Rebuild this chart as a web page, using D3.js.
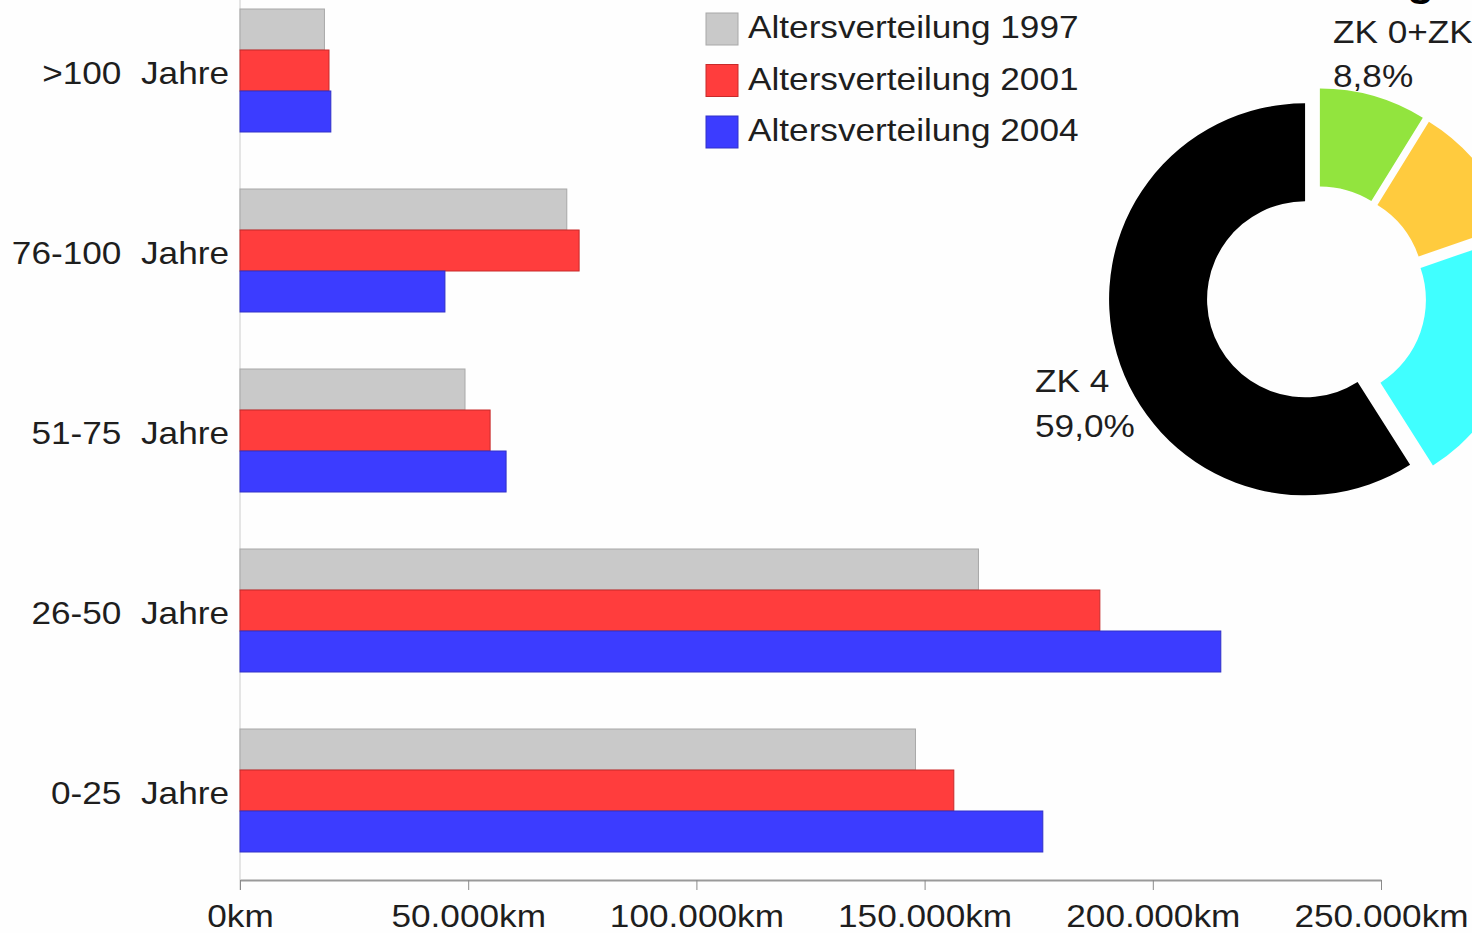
<!DOCTYPE html>
<html lang="de">
<head>
<meta charset="utf-8">
<title>Altersverteilung</title>
<script src="https://cdn.jsdelivr.net/npm/d3@7"></script>
<style>
  body { margin: 0; background: #fefefe; }
  svg { display: block; }
  text { font-family: "Liberation Sans", Arial, sans-serif; fill: #1e1e1e; white-space: pre; }
</style>
</head>
<body>
<script>
// Daten (km)
var categories = [">100  Jahre", "76-100  Jahre", "51-75  Jahre", "26-50  Jahre", "0-25  Jahre"];
var seriesNames = ["Altersverteilung 1997", "Altersverteilung 2001", "Altersverteilung 2004"];
var v1997 = [18500, 71600, 49300, 161800, 148000];
var v2001 = [19500, 74300, 54800, 188400, 156400];
var v2004 = [19900, 44900, 58300, 214900, 175900];
var seriesColors = ["#c9c9c9", "#ff3d3d", "#3c3cff"];
var seriesStroke = ["#a8a8a8", "#c82a2a", "#3030c8"];
var xTicks = [0, 50000, 100000, 150000, 200000, 250000];

var pieLabels = ["ZK 0+ZK 1", "ZK 2", "ZK 3", "ZK 4"];
var pieValues = [8.8, 10.9, 21.3, 59.0];
var pieColors = ["#92e43e", "#ffcb3e", "#40ffff", "#000000"];

var w = 1472, h = 933;
var sx = 1.1; // Schrift leicht in die Breite gezogen

var svg = d3.select("body").append("svg").attr("width", w).attr("height", h);

function txt(x, y, s, size, anchor, weight) {
  return svg.append("text")
    .attr("transform", "translate(" + x + "," + y + ") scale(" + sx + ",1)")
    .attr("text-anchor", anchor || "start")
    .attr("font-size", size + "px")
    .attr("font-weight", weight || "normal")
    .attr("xml:space", "preserve")
    .text(s);
}

var x = d3.scaleLinear().domain([0, 250000]).range([240, 1381]);

var y = d3.scaleBand()
  .domain(categories)
  .range([-19.5, 880.5])
  .paddingInner(57 / 180)
  .paddingOuter(28.5 / 180);

var yInner = d3.scaleBand().domain(d3.range(3)).range([0, y.bandwidth()]);

var table = categories.map(function(c, i) {
  return { cat: c, vals: [v1997[i], v2001[i], v2004[i]] };
});

// vertikale Grundlinie
svg.append("line")
  .attr("x1", x(0)).attr("x2", x(0))
  .attr("y1", 0).attr("y2", 890)
  .attr("stroke", "#dcdcdc").attr("stroke-width", 1.5);

// Balken
var groups = svg.selectAll(".grp")
  .data(table)
  .enter()
  .append("g")
  .attr("class", "grp")
  .attr("transform", function(d) { return "translate(0," + y(d.cat) + ")"; });

groups.selectAll("rect")
  .data(function(d) { return d.vals; })
  .enter()
  .append("rect")
  .attr("x", x(0))
  .attr("y", function(d, i) { return yInner(i); })
  .attr("width", function(d) { return x(d) - x(0); })
  .attr("height", yInner.bandwidth())
  .attr("fill", function(d, i) { return seriesColors[i]; })
  .attr("stroke", function(d, i) { return seriesStroke[i]; })
  .attr("stroke-width", 1);

// Kategorien
categories.forEach(function(c) {
  txt(229, y(c) + y.bandwidth() / 2 + 13, c, 32, "end");
});

// x-Achse
var xAxis = d3.axisBottom(x)
  .tickValues(xTicks)
  .tickSizeInner(10)
  .tickSizeOuter(0)
  .tickFormat(function(d) { return d3.format(",")(d).replace(/,/g, ".") + "km"; });

var ax = svg.append("g").attr("transform", "translate(0,880)").call(xAxis);
ax.select(".domain").attr("stroke", "#9a9a9a").attr("stroke-width", 2);
ax.selectAll(".tick line").attr("stroke", "#8a8a8a");
ax.selectAll(".tick text")
  .attr("y", 47).attr("dy", 0)
  .attr("font-size", "32px")
  .attr("font-family", "Liberation Sans, Arial, sans-serif")
  .attr("fill", "#1e1e1e")
  .attr("transform", "scale(" + sx + ",1)");

// Legende
seriesNames.forEach(function(s, i) {
  var ly = 13 + i * 51.5;
  svg.append("rect")
    .attr("x", 706).attr("y", ly)
    .attr("width", 32).attr("height", 32)
    .attr("fill", seriesColors[i])
    .attr("stroke", seriesStroke[i]);
  txt(748, ly + 25, s, 32, "start");
});

// Ringdiagramm
var cx = 1316.6, cy = 296, R = 196, r = 98, explode = 12;
var pie = d3.pie().sort(null).startAngle(0).endAngle(2 * Math.PI);
var arc = d3.arc().innerRadius(r).outerRadius(R);
var arcs = pie(pieValues);

svg.append("g")
  .attr("transform", "translate(" + cx + "," + cy + ")")
  .selectAll("path")
  .data(arcs)
  .enter()
  .append("path")
  .attr("d", arc)
  .attr("fill", function(d, i) { return pieColors[i]; })
  .attr("transform", function(d) {
    var a = (d.startAngle + d.endAngle) / 2;
    return "translate(" + (Math.sin(a) * explode) + "," + (-Math.cos(a) * explode) + ")";
  });

txt(1333, 43, pieLabels[0], 32, "start");
txt(1333, 87, pieValues[0].toFixed(1).replace(".", ",") + "%", 32, "start");
txt(1035, 392, pieLabels[3], 32, "start");
txt(1035, 437, pieValues[3].toFixed(1).replace(".", ",") + "%", 32, "start");

// abgeschnittener Titel oben rechts
txt(1434, -4, "Zustandsverteilung", 40, "end", "bold").style("fill", "#000");
</script>
</body>
</html>
